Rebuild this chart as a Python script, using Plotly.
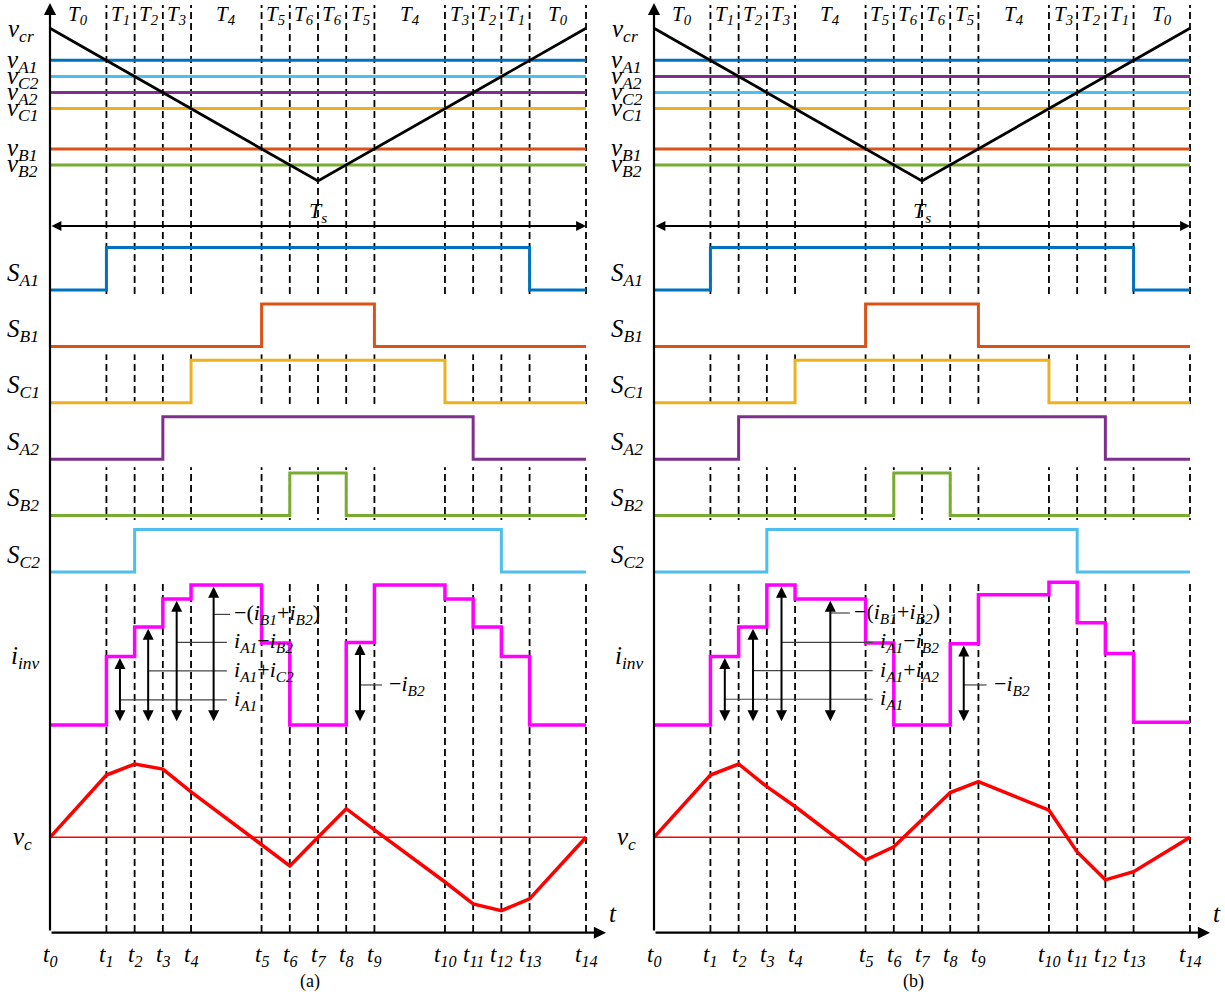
import plotly.graph_objects as go

W, H = 1225, 999
FONT = "Liberation Serif, Times New Roman, serif"

# ---------------------------------------------------------------------------
# data
# ---------------------------------------------------------------------------
# switching instants t0 ... t14 (one carrier period, arbitrary time units)
t_inst = [0, 2, 3, 4, 5, 7.5, 8.5, 9.5, 10.5, 11.5, 14, 15, 16, 17, 19]
tick_names = ["t<sub>%d</sub>" % i for i in range(15)]
interval_names = ["T<sub>0</sub>", "T<sub>1</sub>", "T<sub>2</sub>", "T<sub>3</sub>",
                  "T<sub>4</sub>", "T<sub>5</sub>", "T<sub>6</sub>", "T<sub>6</sub>",
                  "T<sub>5</sub>", "T<sub>4</sub>", "T<sub>3</sub>", "T<sub>2</sub>",
                  "T<sub>1</sub>", "T<sub>0</sub>"]

# triangular carrier v_cr (normalised)
carrier_t = [0, 9.5, 19]
carrier_v = [1.0, 0.0, 1.0]

# modulating references, top to bottom
refs_a = ["A1", "C2", "A2", "C1", "B1", "B2"]
refs_b = ["A1", "A2", "C2", "C1", "B1", "B2"]
ref_levels = [0.790, 0.684, 0.579, 0.474, 0.210, 0.105]

# gate signals, one state per interval [t_i, t_i+1)
sw_rows = ["A1", "B1", "C1", "A2", "B2", "C2"]
sA1_a = [0, 1, 1, 1, 1, 1, 1, 1, 1, 1, 1, 1, 1, 0]
sB1_a = [0, 0, 0, 0, 0, 1, 1, 1, 1, 0, 0, 0, 0, 0]
sC1_a = [0, 0, 0, 0, 1, 1, 1, 1, 1, 1, 0, 0, 0, 0]
sA2_a = [0, 0, 0, 1, 1, 1, 1, 1, 1, 1, 1, 0, 0, 0]
sB2_a = [0, 0, 0, 0, 0, 0, 1, 1, 0, 0, 0, 0, 0, 0]
sC2_a = [0, 0, 1, 1, 1, 1, 1, 1, 1, 1, 1, 1, 0, 0]

sA1_b = [0, 1, 1, 1, 1, 1, 1, 1, 1, 1, 1, 1, 1, 0]
sB1_b = [0, 0, 0, 0, 0, 1, 1, 1, 1, 0, 0, 0, 0, 0]
sC1_b = [0, 0, 0, 0, 1, 1, 1, 1, 1, 1, 0, 0, 0, 0]
sA2_b = [0, 0, 1, 1, 1, 1, 1, 1, 1, 1, 1, 1, 0, 0]
sB2_b = [0, 0, 0, 0, 0, 0, 1, 1, 0, 0, 0, 0, 0, 0]
sC2_b = [0, 0, 0, 1, 1, 1, 1, 1, 1, 1, 1, 0, 0, 0]

# inverter current per interval (normalised)
iinv_a = [0, 0.49, 0.70, 0.90, 1.00, 0.585, 0, 0, 0.59, 1.00, 0.90, 0.70, 0.49, 0]
iinv_b = [0, 0.49, 0.70, 1.00, 0.90, 0.585, 0, 0, 0.58, 0.93, 1.02, 0.73, 0.51, 0.02]

# capacitor voltage ripple at t0 ... t14 (normalised)
vc_a = [0, 0.85, 1.00, 0.93, 0.62, -0.095, -0.39, 0, 0.39, 0.10, -0.61, -0.91, -1.00, -0.84, 0]
vc_b = [0, 0.85, 1.00, 0.69, 0.42, -0.31, -0.13, 0.24, 0.61, 0.76, 0.37, -0.20, -0.58, -0.47, 0]

# current-step annotations: (interval index, text)
steps_a = [(1, "<i>i<sub>A1</sub></i>"),
           (2, "<i>i<sub>A1</sub></i>+<i>i<sub>C2</sub></i>"),
           (3, "<i>i<sub>A1</sub></i>\u2212<i>i<sub>B2</sub></i>"),
           (4, "\u2212(<i>i<sub>B1</sub></i>+<i>i<sub>B2</sub></i>)"),
           (8, "\u2212<i>i<sub>B2</sub></i>")]
steps_b = [(1, "<i>i<sub>A1</sub></i>"),
           (2, "<i>i<sub>A1</sub></i>+<i>i<sub>A2</sub></i>"),
           (3, "<i>i<sub>A1</sub></i>\u2212<i>i<sub>B2</sub></i>"),
           (4, "\u2212(<i>i<sub>B1</sub></i>+<i>i<sub>B2</sub></i>)"),
           (8, "\u2212<i>i<sub>B2</sub></i>")]

# ---------------------------------------------------------------------------
# styling
# ---------------------------------------------------------------------------
COL = {"A1": "#0072BD", "B1": "#D95319", "C1": "#EDB120",
       "A2": "#7E2F8E", "B2": "#77AC30", "C2": "#4DBEEE"}
MAGENTA = "#FF00FF"
RED = "#FF0000"


def px(p):
    return p / W


def py(p):
    return 1 - p / H


def x_axis(p0, p1, lo, hi):
    k = (t_inst[-1] - t_inst[0]) / (p1 - p0)
    return dict(domain=[lo / W, hi / W],
                range=[t_inst[0] + (lo - p0) * k, t_inst[0] + (hi - p0) * k])


def y_axis(v0, p0, v1, p1, top, bot):
    k = (v1 - v0) / (p1 - p0)
    return dict(domain=[1 - bot / H, 1 - top / H],
                range=[v0 + (bot - p0) * k, v0 + (top - p0) * k])


fig = go.Figure()
layout = dict(width=W, height=H, margin=dict(l=0, r=0, t=0, b=0),
              paper_bgcolor="white", plot_bgcolor="white", showlegend=False)
shapes, annos = [], []


def key(axid):
    return axid[0] + "axis" + axid[1:]


def label(x, y, text, size=22, xanchor="left"):
    annos.append(dict(x=px(x), y=py(y), xref="paper", yref="paper", text=text,
                      showarrow=False, xanchor=xanchor, yanchor="middle",
                      font=dict(family=FONT, size=size, color="black")))


def panel(n, off, refs, sw, iinv, vc, steps, leader, tag):
    xa = "x" if n == 0 else "x2"
    base = 1 + 9 * n
    yids = ["y" if base + i == 1 else "y%d" % (base + i) for i in range(9)]
    p0, p1 = 50 + off, 586 + off
    layout[key(xa)] = dict(visible=False, anchor=yids[0], fixedrange=True,
                           **x_axis(p0, p1, 44 + off, 592 + off))
    rows = [y_axis(0, 181, 1, 28.3, 20, 190)]
    for k in range(6):
        lo = 290 + 56.4 * k
        rows.append(y_axis(0, lo, 1, lo - 42.5, lo - 52, lo + 8))
    rows.append(y_axis(0, 725, 1, 585, 570, 735))
    rows.append(y_axis(0, 837.3, 1, 764, 740, 925))
    for yid, r in zip(yids, rows):
        layout[key(yid)] = dict(visible=False, anchor=xa, fixedrange=True, **r)

    def line(x, y, yid, color, width, shape="linear"):
        fig.add_trace(go.Scatter(x=x, y=y, mode="lines", xaxis=xa, yaxis=yid,
                                 line=dict(color=color, width=width, shape=shape),
                                 hoverinfo="skip"))

    # reference levels and carrier
    for name, lev in zip(refs, ref_levels):
        line([t_inst[0], t_inst[-1]], [lev, lev], yids[0], COL[name], 3)
    line(carrier_t, carrier_v, yids[0], "black", 2.8)

    # gate signals
    for k, (name, states) in enumerate(zip(sw_rows, sw)):
        line(t_inst, states + states[-1:], yids[1 + k], COL[name], 3, "hv")

    # inverter current
    line(t_inst, iinv + iinv[-1:], yids[7], MAGENTA, 3.5, "hv")

    # capacitor voltage
    line([t_inst[0], t_inst[-1]], [0, 0], yids[8], RED, 1.4)
    line(t_inst, vc, yids[8], RED, 3.5)

    # dashed interval boundaries
    for t in t_inst[1:]:
        shapes.append(dict(type="line", xref=xa, yref="paper", x0=t, x1=t,
                           y0=py(932), y1=py(5), layer="below",
                           line=dict(color="black", width=1.8, dash="7px,4px")))

    # interval names
    for i, nm in enumerate(interval_names):
        annos.append(dict(x=(t_inst[i] + t_inst[i + 1]) / 2, y=py(15), xref=xa, yref="paper",
                          text="<i>%s</i>" % nm, showarrow=False, xanchor="center",
                          yanchor="middle", font=dict(family=FONT, size=21, color="black")))

    # time tick names
    for t, nm in zip(t_inst, tick_names):
        annos.append(dict(x=t, y=py(956), xref=xa, yref="paper", text="<i>%s</i>" % nm,
                          showarrow=False, xanchor="center", yanchor="middle",
                          font=dict(family=FONT, size=23, color="black")))

    # current step arrows with leaders
    for (seg, txt), (xa_t, ly, lx_end, tx) in zip(steps, leader):
        lev = iinv[seg]
        annos.append(dict(x=xa_t, y=lev - 0.012, ax=xa_t, ay=0.016, xref=xa, yref=yids[7],
                          axref=xa, ayref=yids[7], text="", showarrow=True,
                          arrowhead=2, startarrowhead=2, arrowside="end+start",
                          arrowsize=1.1, startarrowsize=1.1, arrowwidth=2,
                          arrowcolor="black", standoff=0, startstandoff=0))
        shapes.append(dict(type="line", xref=xa, yref=yids[7], x0=xa_t, x1=lx_end,
                           y0=ly, y1=ly, line=dict(color="#444444", width=1.2)))
        annos.append(dict(x=tx, y=ly, xref=xa, yref=yids[7], text=txt, showarrow=False,
                          xanchor="left", yanchor="middle",
                          font=dict(family=FONT, size=22, color="black")))

    # axes: vertical with arrow, horizontal time axis with arrow
    annos.append(dict(x=t_inst[0], y=py(3), xref=xa, yref="paper", ax=0, ay=929,
                      text="", showarrow=True, arrowhead=2, arrowsize=1.1,
                      arrowwidth=2.2, arrowcolor="black", standoff=0))
    annos.append(dict(x=px(606 + off), y=py(932.7), xref="paper", yref="paper",
                      ax=-(606 - 50), ay=0, text="", showarrow=True, arrowhead=2,
                      arrowsize=1.1, arrowwidth=2.2, arrowcolor="black", standoff=0))
    # carrier period span
    annos.append(dict(x=t_inst[-1], y=py(226), ax=t_inst[0], ay=0, xref=xa, yref="paper",
                      axref=xa, text="", showarrow=True, arrowhead=2, startarrowhead=2,
                      arrowside="end+start", arrowsize=1.1, startarrowsize=1.1,
                      arrowwidth=1.8, arrowcolor="black", standoff=0, startstandoff=0))
    annos.append(dict(x=t_inst[7], y=py(212), xref=xa, yref="paper",
                      text="<i>T<sub>s</sub></i>", showarrow=False, xanchor="center",
                      yanchor="middle", font=dict(family=FONT, size=22, color="black")))

    # left-hand signal names
    label(6 + off, 31, "<i>v<sub>cr</sub></i>", 25)
    for name, lev in zip(refs, ref_levels):
        label(5 + off, 181 - lev * 152.7 + 1, "<i>v<sub>%s</sub></i>" % name, 25)
    for k, name in enumerate(sw_rows):
        label(5 + off, 290 + 56.4 * k - 16, "<i>S<sub>%s</sub></i>" % name, 25)
    label(9 + off, 657, "<i>i<sub>inv</sub></i>", 25)
    label(11 + off, 838, "<i>v<sub>c</sub></i>", 25)
    label(607 + off, 913, "<i>t</i>", 25)
    label(310 + off, 981, tag, 18, "center")


# leader geometry: (arrow time, leader level, leader end time, text start time)
lead_a = [(2.48, 0.18, 6.27, 6.45), (3.48, 0.386, 6.27, 6.45), (4.49, 0.59, 6.27, 6.45),
          (5.80, 0.79, 6.38, 6.45), (10.99, 0.286, 11.77, 11.95)]
lead_b = [(2.51, 0.184, 7.75, 7.93), (3.51, 0.388, 7.75, 7.93), (4.52, 0.59, 7.75, 7.93),
          (6.25, 0.80, 6.94, 7.02), (10.98, 0.286, 11.79, 11.97)]

panel(0, 0, refs_a, [sA1_a, sB1_a, sC1_a, sA2_a, sB2_a, sC2_a], iinv_a, vc_a, steps_a,
      lead_a, "(a)")
panel(1, 604, refs_b, [sA1_b, sB1_b, sC1_b, sA2_b, sB2_b, sC2_b], iinv_b, vc_b, steps_b,
      lead_b, "(b)")

layout["shapes"] = shapes
layout["annotations"] = annos
fig.update_layout(**layout)
fig.write_html("out.html")
